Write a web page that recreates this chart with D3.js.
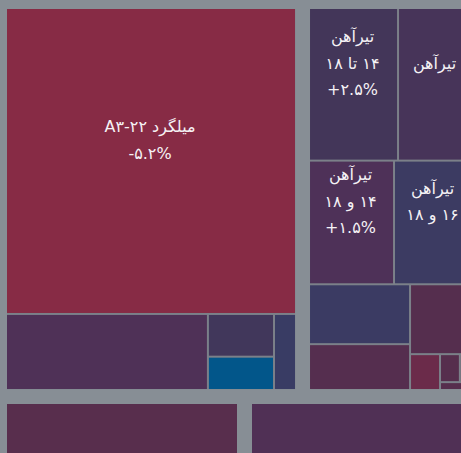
<!DOCTYPE html>
<html lang="fa">
<head>
<meta charset="utf-8">
<script src="https://cdn.jsdelivr.net/npm/d3@7"></script>
<style>
  html, body { margin: 0; padding: 0; overflow: hidden; background: #878e95; }
  svg { display: block; }
  .lbl { font-family: "DejaVu Sans", sans-serif; font-size: 16px; fill: #f5f2f5; }
</style>
</head>
<body>
<div id="chart"></div>
<script>
// Market groups (top level of the treemap)
const groupNames = ["میلگرد", "تیرآهن", "ورق", "نبشی"];

// Products: group index, name, size spec, traded weight, price change (%)
const itemGroups = [0, 0, 0, 0, 0,
                    1, 1, 1, 1, 1, 1, 1, 1, 1, 1, 1,
                    2, 3];
const itemNames = [
  "میلگرد A۳-۲۲", "میلگرد A۳-۱۶", "میلگرد A۲-۱۴", "میلگرد A۳-۱۲", "میلگرد A۳-۱۰",
  "تیرآهن", "تیرآهن", "تیرآهن", "تیرآهن", "تیرآهن", "تیرآهن",
  "تیرآهن", "تیرآهن", "تیرآهن", "تیرآهن", "تیرآهن",
  "ورق سیاه", "نبشی"
];
const itemSpecs = [
  "", "", "", "", "",
  "۱۴ تا ۱۸", "۲۰ تا ۲۴", "۱۴ و ۱۸", "۱۶ و ۱۸", "۱۲", "۲۰",
  "۲۲", "۲۴", "۲۷", "۳۰", "۱۰",
  "", ""
];
const itemWeights = [
  958.8, 165.9, 30.5, 23.8, 18.1,
  151.6, 127.7, 117.3, 109.0, 67.5, 51.7, 49.1, 12.0, 6.2, 4.1, 2.9,
  245.0, 235.0
];
const itemChanges = [
  -5.2, 1.2, 2.7, 7.0, 3.6,
  2.5, 2.1, 1.5, 3.4, 3.5, -0.6, -0.8, -3.0, -0.9, -0.9, -0.9,
  -1.2, 0.8
];

// Colour ramp for price change
const changeStops = [-5.2, -3, -1, 1.5, 2.5, 3.5, 7];
const changeColors = ["#872b45", "#6b2b4a", "#562e4d", "#4e3158", "#433659", "#3b3b63", "#02568a"];

const W = 479, H = 496;

const faDigits = s => String(s).replace(/[0-9]/g, d => "۰۱۲۳۴۵۶۷۸۹"[d]);
const fmtChange = v => (v > 0 ? "+" : v < 0 ? "-" : "") + faDigits(Math.abs(v).toFixed(1)) + "%";

const color = d3.scaleLinear().domain(changeStops).range(changeColors).clamp(true);

const data = {
  name: "بازار",
  children: groupNames.map((g, gi) => ({
    name: g,
    children: itemNames
      .map((n, i) => ({ name: n, spec: itemSpecs[i], value: itemWeights[i], change: itemChanges[i], g: itemGroups[i] }))
      .filter(d => d.g === gi)
  }))
};

const root = d3.hierarchy(data)
  .sum(d => d.children ? 0 : d.value)
  .sort((a, b) => b.value - a.value);

d3.treemap()
  .size([W, H])
  .tile(d3.treemapSquarify)
  .paddingInner(d => d.depth === 0 ? 15 : 2)
  .paddingTop(d => d.depth === 0 ? 9 : 0)
  .paddingLeft(d => d.depth === 0 ? 7 : 0)
  .paddingRight(d => d.depth === 0 ? 7 : 0)
  .paddingBottom(d => d.depth === 0 ? 7 : 0)(root);

const svg = d3.select("#chart").append("svg")
  .attr("width", W).attr("height", H);

// group frames show through the thin gaps between products
svg.append("g").selectAll("rect")
  .data(root.children)
  .join("rect")
  .attr("x", d => d.x0).attr("y", d => d.y0)
  .attr("width", d => d.x1 - d.x0).attr("height", d => d.y1 - d.y0)
  .attr("fill", "#7b8089");

const leaves = svg.append("g").selectAll("g")
  .data(root.leaves())
  .join("g");

leaves.append("rect")
  .attr("x", d => d.x0).attr("y", d => d.y0)
  .attr("width", d => d.x1 - d.x0).attr("height", d => d.y1 - d.y0)
  .attr("fill", d => color(d.data.change));

// labels only where the tile is large enough to hold them
const lineH = 26.5;
leaves.each(function (d) {
  const w = d.x1 - d.x0, h = d.y1 - d.y0;
  if (h < 100 || w < 60) return;
  const lines = [{ t: d.data.name, dir: "rtl" }];
  if (d.data.spec && w >= 75) lines.push({ t: d.data.spec, dir: "rtl" });
  if (w >= 80) lines.push({ t: fmtChange(d.data.change), dir: "ltr" });
  const cx = (d.x0 + d.x1) / 2 - 1;
  const cy = (d.y0 + d.y1) / 2 - 21;
  const top = cy - (lines.length - 1) * lineH / 2;
  const g = d3.select(this);
  lines.forEach((ln, i) => {
    g.append("text")
      .attr("class", "lbl")
      .attr("x", cx)
      .attr("y", top + i * lineH)
      .attr("direction", ln.dir)
      .attr("text-anchor", "middle")
      .attr("dominant-baseline", "central")
      .text(ln.t);
  });
});
</script>
</body>
</html>
